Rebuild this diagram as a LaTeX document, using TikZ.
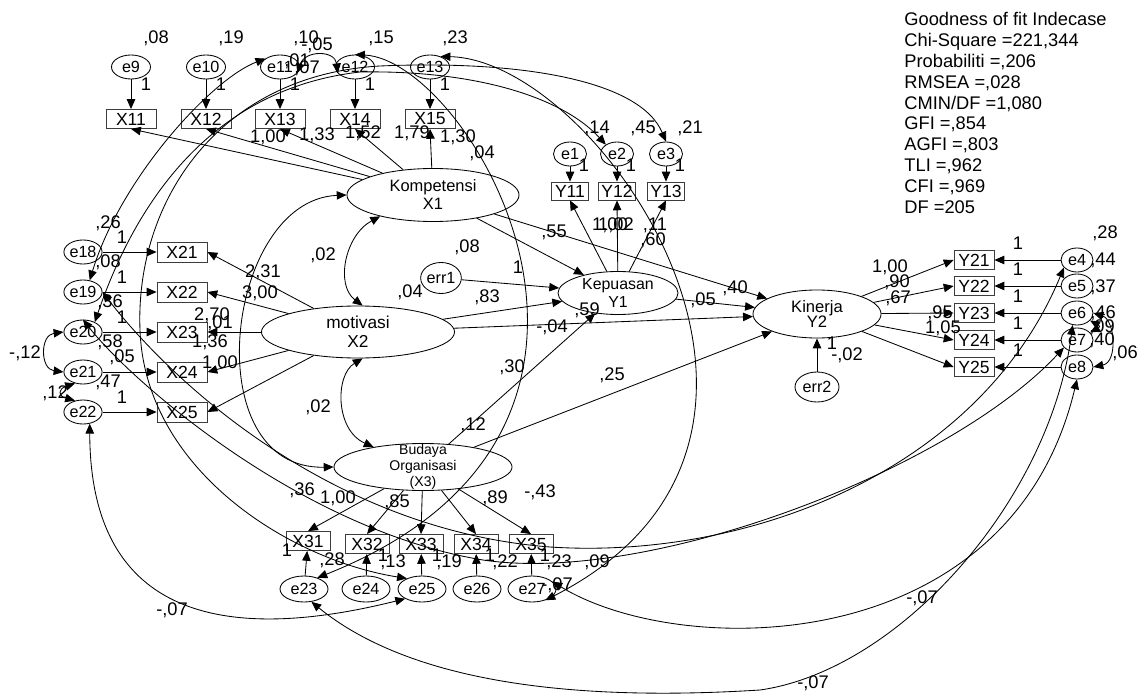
\documentclass[tikz,border=0pt]{standalone}
\usepackage{fontspec}
\setmainfont{Liberation Sans}
\usetikzlibrary{positioning,arrows.meta,shapes.geometric}
\definecolor{BoxC}{HTML}{3C3C3C}

\begin{document}
\begin{tikzpicture}[x=0.025cm,y=-0.025cm,line width=.6pt,
  lat/.style={draw,ellipse,inner sep=0pt},
  err/.style={draw,ellipse,inner sep=0pt,font=\fontsize{11.5}{13}\selectfont},
  obs/.style={draw=BoxC,inner sep=0pt,font=\fontsize{12.5}{14}\selectfont},
  est/.style={inner sep=0pt,font=\fontsize{13}{15}\selectfont},
  gof/.style={inner sep=0pt,font=\fontsize{13}{15}\selectfont},
  reg/.style={-{Triangle[length=7pt,width=6pt]}},
  cov/.style={{Triangle[length=7pt,width=6pt]}-{Triangle[length=7pt,width=6pt]}}]
\useasboundingbox (0,0) rectangle (1142,695);

% ================= latent variables =================
\node[lat,minimum width=4.3cm,minimum height=1.325cm,
  label={[align=center,font=\fontsize{11.7}{12.8}\selectfont]center:{Kompetensi\\X1}}] (K) at (433,195) {};
\node[lat,minimum width=4.825cm,minimum height=1.3cm,
  label={[align=center,font=\fontsize{12.3}{13.2}\selectfont]center:{motivasi\\X2}}] (M) at (358,332) {};
\node[lat,minimum width=4.45cm,minimum height=1.175cm,
  label={[align=center,font=\fontsize{10}{11.5}\selectfont]center:{Budaya\\Organisasi\\(X3)}}] (B) at (423,467) {};
\node[lat,minimum width=3cm,minimum height=1.075cm,
  label={[align=center,font=\fontsize{11.3}{12.8}\selectfont]center:{Kepuasan\\Y1}}] (KP) at (618,293) {};
\node[lat,minimum width=3.2cm,minimum height=1.2cm,
  label={[align=center,font=\fontsize{11.8}{11}\selectfont]center:{Kinerja\\Y2}}] (KN) at (817,314) {};
\node[err,minimum width=.975cm,minimum height=.775cm] (err1) at (441,278) {err1};
\node[err,minimum width=1.1cm,minimum height=.75cm] (err2) at (817,387) {err2};

% ================= measurement parts =================
% Kompetensi
\foreach \i/\e/\x in {1/9/131,2/10/206,3/11/280,4/12/355,5/13/430}{
  \node[obs,minimum width=1.25cm,minimum height=.475cm] (X1\i) at (\x,119) {X1\i};
  \node[err,minimum width=.975cm,minimum height=.6cm] (e\e) at (\x,67) {e\e};
  \node[est] (u\e) at (\x+15,84) {1};
  \draw[reg] (e\e) -- (X1\i);
  \draw[reg] (K) -- (X1\i.south);}

% motivasi
\foreach \i/\e/\y in {1/18/252,2/19/292,3/20/332,4/21/372,5/22/412}{
  \node[obs,minimum width=1.25cm,minimum height=.5cm] (X2\i) at (182,\y) {X2\i};
  \node[err,minimum width=.95cm,minimum height=.6cm] (e\e) at (83,\y) {e\e};
  \draw[reg] (e\e) -- (X2\i);
  \draw[reg] (M) -- (X2\i.east);}

% Budaya Organisasi
\foreach \i/\e/\x/\ex/\y in {1/23/308/304/541,2/24/367/366/544,3/25/421/422/544,4/26/476/477/544,5/27/531/532/544}{
  \node[obs,minimum width=1.1cm,minimum height=.475cm] (X3\i) at (\x,\y) {X3\i};
  \node[err,minimum width=1.2cm,minimum height=.65cm] (e\e) at (\ex,589) {e\e};
  \draw[reg] (e\e) -- (X3\i);
  \draw[reg] (B) -- (X3\i.north);}

% Kepuasan
\foreach \i/\x in {1/570,2/617,3/666}{
  \node[obs,minimum width=.925cm,minimum height=.45cm] (Y1\i) at (\x,191) {Y1\i};
  \node[err,minimum width=.825cm,minimum height=.6cm] (e\i) at (\x,154) {e\i};
  \node[est] (w\i) at (\x+14,165) {1};
  \draw[reg] (e\i) -- (Y1\i);
  \draw[reg] (KP) -- (Y1\i.south);}

% Kinerja
\foreach \i/\e/\y in {1/4/260,2/5/286,3/6/313,4/7/340,5/8/367}{
  \node[obs,minimum width=1cm,minimum height=.475cm] (Y2\i) at (974,\y) {Y2\i};
  \node[err,minimum width=.8cm,minimum height=.6cm] (e\e) at (1077,\y) {e\e};
  \node[est] (r\e) at (1018,\y-17) {1};
  \draw[reg] (e\e) -- (Y2\i);
  \draw[reg] (KN) -- (Y2\i.west);}

% ================= structural paths =================
\draw[reg] (K) -- (KP);
\draw[reg] (K) -- (KN);
\draw[reg] (M) -- (KP);
\draw[reg] (M) -- (KN);
\draw[reg] (B) -- (KP);
\draw[reg] (B) -- (KN);
\draw[reg] (KP) -- (KN);
\draw[reg] (err1) -- (KP);
\draw[reg] (err2) -- (KN);

% ================= covariances =================
\draw[cov] (K.202) .. controls (345,235) and (335,285) .. (M.80);
\draw[cov] (M.280) .. controls (335,375) and (335,430) .. (B.158);
\draw[cov] (K.west) .. controls (225,200) and (195,470) .. (B.west);
\draw[cov] (e11.340) .. controls (305,50) and (335,50) .. (e12.200);
\draw[cov] (e12.north) .. controls (470,60) and (690,430) .. (e23.40);
\draw[cov] (e13.45) .. controls (600,60) and (860,440) .. (e27.320);
\draw[cov] (e11.150) .. controls (210,80) and (120,180) .. (e19.60);
\draw[cov] (e2.140) .. controls (560,95) and (470,70) .. (360,72)
  .. controls (220,88) and (140,190) .. (e20.40);
\draw[cov] (e3.north) .. controls (640,80) and (520,60) .. (380,66)
  .. controls (220,75) and (135,200) .. (140,330)
  .. controls (145,470) and (290,560) .. (e25.145);
\draw[cov] (e19.east) .. controls (170,380) and (330,530) .. (550,547)
  .. controls (750,560) and (980,470) .. (e4.210);
\draw[cov] (e20.north) .. controls (130,380) and (300,530) .. (483,560)
  .. controls (650,585) and (950,470) .. (e7.210);
\draw[cov] (e27.20) .. controls (680,660) and (1010,660) .. (e8.south);
\draw[cov] (e23.300) .. controls (420,690) and (600,700) .. (760,690)
  .. controls (900,670) and (1050,500) .. (e6.250);
\draw[cov] (e22.300) .. controls (90,600) and (200,650) .. (e25.210);
\draw[cov] (e20.west) .. controls (40,335) and (40,369) .. (e21.west);
\draw[cov] (e21.235) .. controls (58,389) and (58,396) .. (e22.125);
\draw[cov] (e6.330) .. controls (1100,326) and (1100,327) .. (e7.30);
\draw[cov] (e6.east) .. controls (1115,320) and (1118,362) .. (e8.east);

% ================= estimates =================
\foreach \txt/\x/\y [count=\n] in {
  {,08}/156/38, {,19}/231/38, {,10}/306/38, {-,05}/317/45, {,15}/381/38, {,23}/455/38,
  {,01}/297/61, {,07}/307/68,
  {1,00}/268/137, {1,33}/317/135, {1,52}/363/133, {1,79}/412/133, {1,30}/458/137, {,04}/482/153,
  {,14}/597/128, {,45}/643/128, {,21}/690/128,
  {1,00}/610/225, {1,02}/616/225, {,11}/655/225, {,60}/653/240,
  {,55}/554/232, {,08}/467/247, {,02}/323/255, {1}/518/267, {,04}/410/292, {,83}/487/297,
  {,59}/587/310, {-,04}/552/327, {,05}/703/300, {,40}/735/288, {,30}/512/367, {,25}/612/375,
  {,02}/318/407, {,12}/473/425,
  {2,31}/263/272, {3,00}/260/293, {2,70}/212/315, {,01}/220/323, {1,36}/210/342, {1,00}/220/363,
  {,26}/108/223, {1}/122/237, {,08}/108/262, {1}/122/277, {,36}/110/302, {1}/122/317,
  {,58}/110/342, {,05}/122/357, {,47}/108/382, {1}/122/397, {-,12}/25/353, {,12}/55/393,
  {,36}/302/490, {1,00}/338/498, {,85}/397/502, {,89}/495/498, {-,43}/540/492,
  {1}/287/550, {,28}/332/560, {1}/383/555, {,13}/393/562, {1}/437/555, {,19}/449/562,
  {1}/490/555, {,22}/505/562, {1}/545/555, {,23}/559/562, {,09}/597/562,
  {-,07}/557/585, {-,07}/172/610, {-,07}/922/598, {-,07}/813/683,
  {,28}/1105/233, {,44}/1103/260, {,37}/1103/287, {,46}/1103/313, {,09}/1102/327,
  {,40}/1102/340, {,06}/1125/353,
  {1,00}/890/267, {,90}/897/282, {,67}/898/298, {,95}/940/313, {1,05}/943/328,
  {1}/832/343, {-,02}/847/355}{
  \node[est] (v\n) at (\x,\y) {\txt};}

% ================= fit indices =================
\foreach \txt [count=\n] in {{Goodness of fit Indecase},{Chi-Square =221,344},
  {Probabiliti =,206},{RMSEA =,028},{CMIN/DF =1,080},{GFI =,854},{AGFI =,803},
  {TLI =,962},{CFI =,969},{DF =205}}{
  \node[gof,anchor=base west] (g\n) at (904,{26+20.8*(\n-1)}) {\txt};}
\end{tikzpicture}
\end{document}
